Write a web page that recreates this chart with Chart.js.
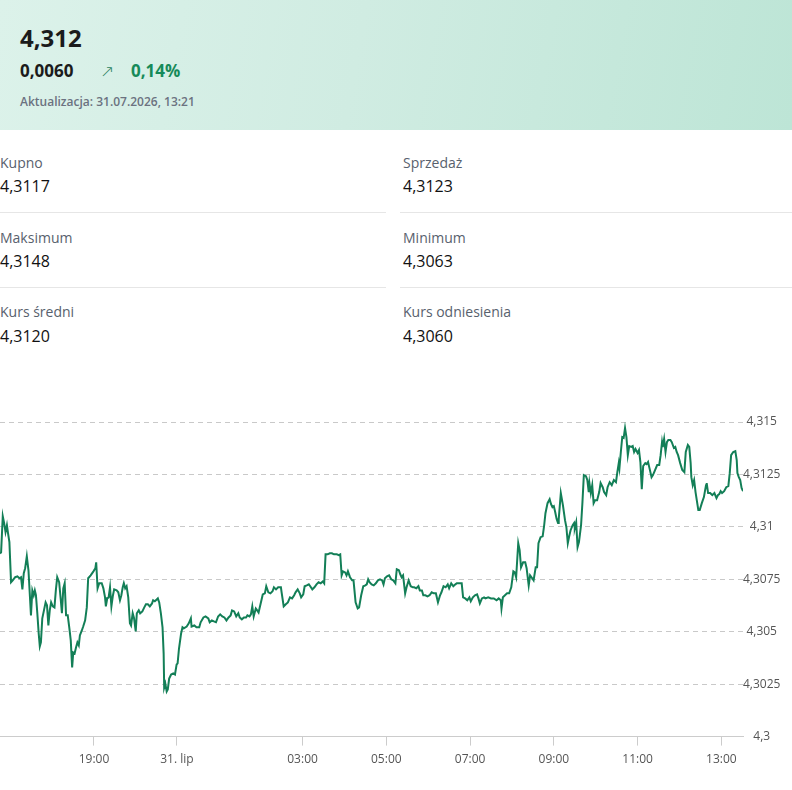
<!DOCTYPE html>
<html lang="pl">
<head>
<meta charset="utf-8">
<title>Kurs</title>
<script src="https://cdn.jsdelivr.net/npm/chart.js@4.4.1/dist/chart.umd.min.js"></script>
<style>
  html, body { margin: 0; padding: 0; background: #fff; }
  body { width: 792px; height: 790px; position: relative; overflow: hidden; font-family: 'Open Sans', sans-serif; color: #1b1b1b; }
  .head { position: absolute; left: 0; top: 0; width: 792px; height: 130px;
    background: linear-gradient(100deg, #dcf2ea 0%, #d0ece2 45%, #bde5d6 100%); }
  .abs { position: absolute; white-space: nowrap; }
  .rate { left: 20px; top: 22px; font-size: 24px; line-height: 32px; font-weight: 700; }
  .chg { left: 20px; top: 59px; font-size: 17px; line-height: 24px; font-weight: 700; }
  .arrow { left: 100px; top: 59px; font-size: 17px; line-height: 24px; font-weight: 300; color: #2a8260; font-family: 'DejaVu Sans', sans-serif; }
  .pct { left: 131px; top: 59px; font-size: 17px; line-height: 24px; font-weight: 700; color: #168a59; }
  .upd { left: 20px; top: 94px; font-size: 12px; line-height: 16px; font-weight: 600; color: #6b7280; }
  .lbl { font-size: 14px; line-height: 20px; color: #58616d; }
  .val { font-size: 16px; line-height: 22px; color: #111; }
  .sep { position: absolute; height: 1px; background: #e6e6e6; }
  #box { position: absolute; left: 0; top: 400px; width: 792px; height: 390px; }
</style>
</head>
<body>
<div class="head"></div>
<div class="abs rate">4,312</div>
<div class="abs chg">0,0060</div>
<div class="abs arrow">↗</div>
<div class="abs pct">0,14%</div>
<div class="abs upd">Aktualizacja: 31.07.2026, 13:21</div>

<div class="abs lbl" style="left:0;top:153px">Kupno</div>
<div class="abs val" style="left:0;top:175px">4,3117</div>
<div class="abs lbl" style="left:403px;top:153px">Sprzedaż</div>
<div class="abs val" style="left:403px;top:175px">4,3123</div>
<div class="sep" style="left:0;width:386px;top:212px"></div>
<div class="sep" style="left:400px;width:392px;top:212px"></div>

<div class="abs lbl" style="left:0;top:228px">Maksimum</div>
<div class="abs val" style="left:0;top:250px">4,3148</div>
<div class="abs lbl" style="left:403px;top:228px">Minimum</div>
<div class="abs val" style="left:403px;top:250px">4,3063</div>
<div class="sep" style="left:0;width:386px;top:287px"></div>
<div class="sep" style="left:400px;width:392px;top:287px"></div>

<div class="abs lbl" style="left:0;top:302px">Kurs średni</div>
<div class="abs val" style="left:0;top:325px">4,3120</div>
<div class="abs lbl" style="left:403px;top:302px">Kurs odniesienia</div>
<div class="abs val" style="left:403px;top:325px">4,3060</div>

<div id="box"><canvas id="chart" width="792" height="390"></canvas></div>

<script>
// minutes from 31.07 00:00 (negative = 30.07)
const minutes = [-640,-636,-630,-625,-620,-615,-611,-606,-600,-594,-585,-577,-570,-564,-559,-554,-549,-543,-537,-531,
  -528,-523,-518,-514,-510,-505,-500,-496,-492,-487,-481,-475,-470,-465,-460,-455,-449,-443,-438,-433,
  -426,-420,-416,-411,-406,-401,-395,-389,-384,-379,-375,-370,-365,-360,-355,-351,-344,-339,-332,-326,
  -321,-312,-302,-295,-292,-287,-281,-272,-266,-260,-257,-252,-247,-242,-237,-232,-227,-218,-212,-206,
  -201,-196,-192,-187,-182,-176,-170,-166,-160,-155,-149,-145,-138,-133,-125,-118,-112,-105,-98,-90,
  -86,-80,-73,-69,-64,-58,-52,-48,-46,-42,-37,-33,-28,-21,-13,-7,-1,1,3,6,
  8,10,14,17,20,21,25,28,32,34,38,41,45,47,50,53,56,59,62,65,
  68,71,74,77,79,82,85,88,90,93,96,99,101,104,106,108,110,113,115,117,
  120,123,126,128,131,134,137,139,142,145,149,150,153,156,159,162,165,168,170,173,
  176,178,181,183,186,189,191,194,197,200,203,206,209,211,213,216,219,222,225,229,
  232,234,236,238,241,243,245,248,251,253,256,259,261,264,267,270,272,274,276,279,
  282,285,288,291,294,296,298,301,304,307,310,313,315,318,320,322,324,327,329,332,
  335,338,340,343,346,348,351,353,356,359,362,365,368,371,374,377,379,382,385,388,
  390,393,396,399,401,405,408,410,413,416,419,421,424,427,430,432,434,437,440,442,
  446,450,454,458,461,464,465,467,470,473,476,479,482,484,486,489,491,493,496,499,
  501,504,506,508,511,514,516,518,521,524,526,528,531,534,536,538,540,542,544,546,
  547,550,553,556,558,560,562,564,567,569,570,572,574,576,579,581,583,586,588,590,
  591,593,595,597,599,602,605,607,610,612,615,617,620,623,626,629,631,633,634,636,
  638,640,642,644,646,648,651,653,655,657,660,662,664,666,668,671,673,675,677,680,
  682,685,688,691,693,695,696,698,700,702,704,707,709,712,714,716,718,721,724,727,
  729,732,734,736,737,739,741,743,745,747,749,752,755,758,759,761,764,767,770,773,
  775,777,779,781,784,787,790,792,794,797,800,802,803,805,807,809,811];

const rates = [4.30873,4.30879,4.31051,4.31018,4.30975,4.31008,4.3097,4.30927,4.30736,4.30745,4.3076,4.30764,4.30755,4.3076,4.30702,4.30779,4.30803,4.3086,4.30793,4.3065,
  4.30578,4.30697,4.30674,4.30697,4.30674,4.30588,4.30492,4.3043,4.30449,4.30564,4.30602,4.3064,4.30626,4.3053,4.30602,4.3064,4.30621,4.30616,4.30697,4.3076,
  4.30736,4.3065,4.30588,4.30707,4.30731,4.30578,4.30578,4.30516,4.30459,4.3033,4.30401,4.30397,4.30425,4.30449,4.30435,4.30482,4.30506,4.30525,4.30554,4.30616,
  4.30755,4.30769,4.30788,4.30803,4.30831,4.30707,4.30731,4.30731,4.30707,4.30664,4.30621,4.30659,4.30664,4.30712,4.30621,4.30669,4.30702,4.30697,4.30688,4.3065,
  4.30674,4.30712,4.30731,4.30707,4.30717,4.30664,4.3054,4.3053,4.30588,4.30564,4.30502,4.30588,4.30602,4.30588,4.30597,4.30616,4.30631,4.30631,4.30621,4.30635,
  4.3065,4.30645,4.30654,4.30659,4.3064,4.30588,4.30521,4.30397,4.30234,4.30253,4.30215,4.30225,4.30277,4.30296,4.30301,4.30296,4.30344,4.30349,4.3042,4.30492,
  4.30521,4.30516,4.30525,4.3054,4.30564,4.30525,4.3053,4.30521,4.30521,4.30545,4.30568,4.30573,4.30564,4.30545,4.30554,4.30549,4.30545,4.30573,4.30583,4.30573,
  4.30568,4.30554,4.30568,4.30578,4.30602,4.30597,4.30573,4.30588,4.30568,4.30559,4.30568,4.30568,4.30578,4.30573,4.30583,4.30621,4.30573,4.30611,4.30602,4.30592,
  4.30635,4.30678,4.30683,4.30717,4.30688,4.30683,4.30693,4.30712,4.30702,4.30712,4.30712,4.30688,4.30621,4.30631,4.3064,4.30664,4.30659,4.30674,4.30688,4.30702,
  4.30683,4.30664,4.30678,4.30717,4.30721,4.30726,4.30717,4.30702,4.30712,4.30726,4.30736,4.30731,4.3074,4.30731,4.30869,4.30869,4.30874,4.30874,4.30869,4.30869,
  4.30865,4.30869,4.30769,4.30788,4.30783,4.30769,4.30788,4.3076,4.30745,4.30745,4.3064,4.30611,4.30616,4.30674,4.30717,4.30721,4.30726,4.3075,4.30736,4.30726,
  4.30721,4.30731,4.30745,4.3075,4.30745,4.30726,4.30755,4.30764,4.30769,4.3075,4.30745,4.30731,4.30798,4.30793,4.30774,4.3076,4.30769,4.30683,4.30712,4.30745,
  4.30717,4.30712,4.30712,4.30707,4.30717,4.30697,4.30697,4.30674,4.30674,4.30669,4.30674,4.30688,4.30683,4.30683,4.3064,4.30674,4.30688,4.30717,4.30712,4.30726,
  4.30707,4.30731,4.30717,4.30726,4.30731,4.30731,4.30731,4.30664,4.30659,4.3065,4.30664,4.30645,4.30664,4.30674,4.30678,4.30659,4.30635,4.30659,4.30664,4.30659,
  4.30664,4.30659,4.30659,4.3065,4.30659,4.3065,4.30611,4.30664,4.30674,4.30683,4.30683,4.30712,4.30788,4.30783,4.3076,4.30922,4.30889,4.30807,4.30831,4.30831,
  4.30803,4.30721,4.30769,4.3076,4.30745,4.30807,4.30807,4.30922,4.30951,4.30955,4.31003,4.31065,4.31113,4.31132,4.31108,4.31094,4.31099,4.3107,4.31037,4.31018,
  4.31037,4.31161,4.31104,4.31032,4.30998,4.30922,4.30955,4.30984,4.31008,4.31018,4.30994,4.31022,4.30903,4.30927,4.31008,4.31118,4.31247,4.31242,4.31223,4.31166,
  4.31209,4.31161,4.31199,4.31113,4.31127,4.31127,4.31166,4.31209,4.31189,4.31166,4.31151,4.31189,4.31213,4.31199,4.31223,4.31213,4.31261,4.31304,4.3128,4.31357,
  4.31428,4.31424,4.31471,4.31428,4.31342,4.31385,4.31381,4.31385,4.31357,4.31371,4.31352,4.31366,4.31309,4.3118,4.3129,4.31304,4.31299,4.31309,4.3128,4.31237,
  4.31247,4.31271,4.31295,4.31295,4.31342,4.31404,4.31381,4.31419,4.31357,4.31404,4.31414,4.31414,4.31404,4.31376,4.31381,4.31357,4.31342,4.31304,4.31271,4.31261,
  4.31357,4.3139,4.31381,4.31304,4.31237,4.31199,4.31223,4.31166,4.31123,4.3108,4.3108,4.31113,4.31142,4.31199,4.31209,4.31161,4.31161,4.31151,4.31161,4.31137,
  4.31151,4.31156,4.3117,4.31161,4.3117,4.31189,4.31194,4.31256,4.31342,4.31357,4.31361,4.31318,4.31256,4.31237,4.31223,4.31185,4.3117];

const tickMinutes = [-300, 0, 180, 300, 420, 540, 660, 780];
const tickLabels = ['19:00', '31. lip', '03:00', '05:00', '07:00', '09:00', '11:00', '13:00'];
const yMin = 4.3, yMax = 4.315, yStep = 0.0025;

// ordinal-like axis: evening hours are squeezed (fewer quotes)
const eveningScale = 0.396;
function pos(m) { return m < 0 ? m * eveningScale : m; }

const points = minutes.map((m, i) => ({ x: pos(m), y: rates[i] }));

Chart.defaults.font.family = "'Open Sans', sans-serif";
Chart.defaults.font.size = 12;
Chart.defaults.color = '#5c5c5c';

new Chart(document.getElementById('chart'), {
  type: 'line',
  data: {
    datasets: [{
      data: points,
      borderColor: '#137f57',
      borderWidth: 2,
      pointRadius: 0,
      tension: 0,
      fill: false
    }]
  },
  options: {
    responsive: false,
    animation: false,
    events: [],
    layout: { padding: { top: 22, bottom: 16, left: 0, right: 8 } },
    plugins: { legend: { display: false }, tooltip: { enabled: false } },
    scales: {
      x: {
        type: 'linear',
        min: pos(minutes[0]),
        max: pos(minutes[minutes.length - 1]),
        afterBuildTicks: s => { s.ticks = tickMinutes.map(m => ({ value: pos(m) })); },
        ticks: {
          autoSkip: false,
          maxRotation: 0,
          padding: 7,
          color: '#555',
          callback: (v, i) => tickLabels[i]
        },
        grid: { drawOnChartArea: false, drawTicks: true, tickLength: 9, color: '#cccccc' },
        border: { display: true, color: '#cccccc' }
      },
      y: {
        position: 'right',
        min: yMin,
        max: yMax,
        afterBuildTicks: s => {
          const t = [];
          for (let v = yMin; v <= yMax + 1e-9; v += yStep) t.push({ value: Number(v.toFixed(4)) });
          s.ticks = t;
        },
        afterFit: s => { s.width = 41; },
        ticks: {
          crossAlign: 'center',
          padding: 0,
          color: '#555',
          callback: v => String(Number(v.toFixed(4))).replace('.', ',')
        },
        grid: {
          drawTicks: false,
          color: c => (c.tick && c.tick.value <= yMin) ? 'rgba(0,0,0,0)' : '#c9c9c9'
        },
        border: { display: false, dash: [5, 4] }
      }
    }
  }
});
</script>
</body>
</html>
